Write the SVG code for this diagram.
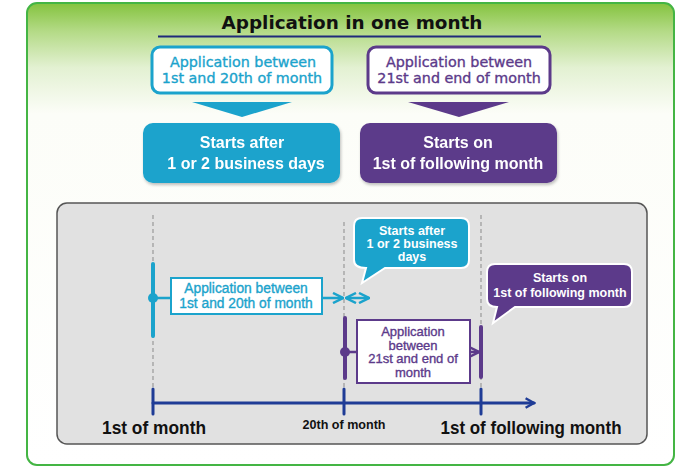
<svg xmlns="http://www.w3.org/2000/svg" width="700" height="470" viewBox="0 0 700 470">
<style>
  text { font-family: "Liberation Sans", Arial, sans-serif; }
  .title { font-family: "DejaVu Sans", Verdana, sans-serif; font-size: 18.4px; font-weight: bold; fill: #111; text-anchor: middle; }
  .cy { fill: #1ba3cc; }
  .pu { fill: #5c3a8a; }
  .cy.th { stroke: #1ba3cc; stroke-width: 0.35; }
  .pu.th { stroke: #5c3a8a; stroke-width: 0.35; }
  .wt { fill: #fff; }
  .c { text-anchor: middle; }
  .top { font-family: "DejaVu Sans", Verdana, sans-serif; font-size: 14.3px; }
  .big { font-size: 16px; font-weight: bold; }
  .call { font-size: 12.5px; font-weight: bold; }
  .lab { font-size: 13.8px; }
  .lab2 { font-size: 13px; }
  .axl { font-size: 19px; font-weight: bold; fill: #111; text-anchor: middle; }
  .dash { stroke: #999; stroke-width: 1.2; stroke-dasharray: 4 3; fill: none; }
  .axis { stroke: #1f3c96; stroke-width: 3; fill: none; stroke-linecap: round; }
</style>
<defs>
  <linearGradient id="gbg" x1="0" y1="0" x2="0" y2="1">
    <stop offset="0" stop-color="#84c33e"/>
    <stop offset="0.06" stop-color="#b3da85"/>
    <stop offset="0.14" stop-color="#e3f1d2"/>
    <stop offset="0.24" stop-color="#fcfdf8"/>
    <stop offset="1" stop-color="#ffffff"/>
  </linearGradient>
  <filter id="sh" x="-10%" y="-10%" width="120%" height="130%">
    <feDropShadow dx="1" dy="2" stdDeviation="1.5" flood-color="#000" flood-opacity="0.25"/>
  </filter>
  <marker id="axArr" viewBox="0 0 10 10" refX="8" refY="5" markerWidth="4" markerHeight="4" orient="auto">
    <path d="M1,1 L8,5 L1,9" fill="none" stroke="#1f3c96" stroke-width="2"/>
  </marker>
  <marker id="cyArr" viewBox="0 0 10 10" refX="9" refY="5" markerWidth="5" markerHeight="5" orient="auto-start-reverse">
    <path d="M1,1 L9,5 L1,9" fill="none" stroke="#1ba3cc" stroke-width="2"/>
  </marker>
  <marker id="puArr" viewBox="0 0 10 10" refX="9" refY="5" markerWidth="5" markerHeight="5" orient="auto">
    <path d="M1,1 L9,5 L1,9" fill="none" stroke="#5c3a8a" stroke-width="2"/>
  </marker>
</defs>

<!-- outer frame -->
<rect x="27" y="3" width="647" height="462" rx="10" fill="url(#gbg)" stroke="#44b544" stroke-width="2"/>

<g id="title">
  <text class="title" x="352" y="29">Application in one month</text>
  <line x1="158" y1="36.5" x2="541" y2="36.5" stroke="#1f2a7a" stroke-width="2"/>
</g>

<g id="node-app1">
  <rect x="152" y="47" width="180" height="46" rx="8" fill="#fff" stroke="#1ba3cc" stroke-width="3"/>
  <text class="top cy th c" x="243" y="67">Application between</text>
  <text class="top cy th c" x="242" y="83">1st and 20th of month</text>
</g>
<g id="node-app2">
  <rect x="368" y="47" width="182" height="46" rx="8" fill="#fff" stroke="#5c3a8a" stroke-width="3"/>
  <text class="top pu th c" x="459" y="67">Application between</text>
  <text class="top pu th c" x="459" y="83">21st and end of month</text>
</g>

<g id="connectors-top">
  <polygon points="192,102 292,102 242,117" fill="#1ba3cc"/>
  <polygon points="408,102 509,102 459,117" fill="#5c3a8a"/>
</g>

<g id="node-start1" filter="url(#sh)">
  <rect x="143" y="123" width="197" height="60" rx="10" fill="#1ba3cc"/>
  <text class="big wt c" x="242" y="148">Starts after</text>
  <text class="big wt c" x="246" y="169">1 or 2 business days</text>
</g>
<g id="node-start2" filter="url(#sh)">
  <rect x="360" y="123" width="197" height="60" rx="10" fill="#5c3a8a"/>
  <text class="big wt c" x="458" y="148">Starts on</text>
  <text class="big wt c" x="458" y="169">1st of following month</text>
</g>

<!-- timeline panel -->
<rect x="57" y="203" width="590" height="241" rx="10" fill="#e1e1e1" stroke="#555" stroke-width="1.5"/>

<g id="connectors">
  <line class="dash" x1="153" y1="215" x2="153" y2="388"/>
  <line class="dash" x1="344" y1="222" x2="344" y2="388"/>
  <line class="dash" x1="481" y1="215" x2="481" y2="388"/>

  <!-- cyan span -->
  <line x1="153" y1="264" x2="153" y2="336" stroke="#1ba3cc" stroke-width="4" stroke-linecap="round"/>
  <circle cx="153" cy="298" r="5" fill="#1ba3cc"/>
  <line x1="153" y1="298" x2="343" y2="298" stroke="#1ba3cc" stroke-width="2.5" marker-end="url(#cyArr)"/>
  <line x1="346" y1="298" x2="369" y2="298" stroke="#1ba3cc" stroke-width="2.5" marker-start="url(#cyArr)" marker-end="url(#cyArr)"/>

  <!-- purple span -->
  <line x1="345" y1="318" x2="345" y2="378" stroke="#5c3a8a" stroke-width="4" stroke-linecap="round"/>
  <circle cx="345" cy="352" r="5" fill="#5c3a8a"/>
  <line x1="345" y1="352" x2="479" y2="352" stroke="#5c3a8a" stroke-width="2.5" marker-end="url(#puArr)"/>
  <line x1="481" y1="327" x2="481" y2="377" stroke="#5c3a8a" stroke-width="4" stroke-linecap="round"/>

  <!-- axis -->
  <line class="axis" x1="153" y1="403" x2="534" y2="403" marker-end="url(#axArr)"/>
  <line class="axis" x1="153" y1="389" x2="153" y2="414"/>
  <line class="axis" x1="344" y1="389" x2="344" y2="414"/>
  <line class="axis" x1="481" y1="389" x2="481" y2="414"/>
</g>

<g id="node-label1">
  <rect x="171" y="278" width="151" height="36" fill="#fff" stroke="#1ba3cc" stroke-width="2"/>
  <text class="lab cy th c" x="246" y="293">Application between</text>
  <text class="lab cy th c" x="246" y="308">1st and 20th of month</text>
</g>

<g id="node-label2">
  <rect x="357" y="320" width="113" height="63" fill="#fff" stroke="#5c3a8a" stroke-width="2"/>
  <text class="lab2 pu th c" x="413" y="336">Application</text>
  <text class="lab2 pu th c" x="413" y="349.5">between</text>
  <text class="lab2 pu th c" x="413" y="363">21st and end of</text>
  <text class="lab2 pu th c" x="413" y="376.5">month</text>
</g>

<g id="node-callout1">
  <path d="M362,218 H461 Q469,218 469,226 V260 Q469,268 461,268 H385 L362,283 L366,268 Q354,268 354,260 V226 Q354,218 362,218 Z" fill="#1ba3cc" stroke="#fff" stroke-width="2"/>
  <text class="call wt c" x="412" y="234.5">Starts after</text>
  <text class="call wt c" x="412" y="247.5">1 or 2 business</text>
  <text class="call wt c" x="412" y="260.5">days</text>
</g>

<g id="node-callout2">
  <path d="M495,264 H624 Q632,264 632,272 V299 Q632,307 624,307 H515 L493,323 L497,307 Q487,307 487,299 V272 Q487,264 495,264 Z" fill="#5c3a8a" stroke="#fff" stroke-width="2"/>
  <text class="call wt c" x="560" y="282">Starts on</text>
  <text class="call wt c" x="560" y="297">1st of following month</text>
</g>

<g id="axis-labels">
  <text class="axl" x="154" y="434" textLength="104" lengthAdjust="spacingAndGlyphs">1st of month</text>
  <text x="344" y="429" font-size="12" font-weight="bold" fill="#111" text-anchor="middle" textLength="83" lengthAdjust="spacingAndGlyphs">20th of month</text>
  <text class="axl" x="531" y="434" textLength="181" lengthAdjust="spacingAndGlyphs">1st of following month</text>
</g>
</svg>
